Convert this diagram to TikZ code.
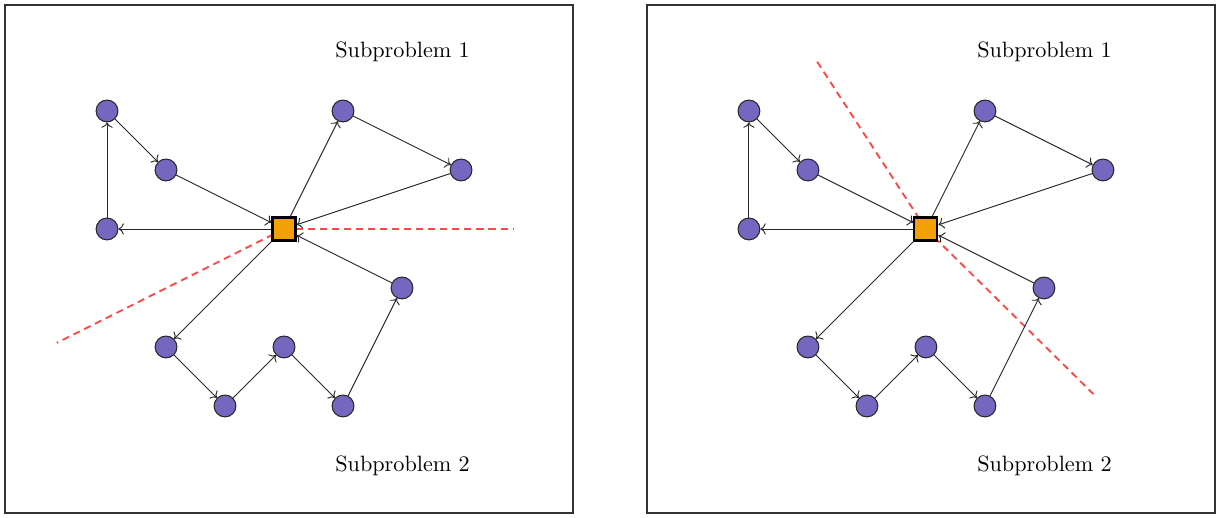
\documentclass[tikz,border=0pt]{standalone}
\usetikzlibrary{arrows.meta}
\definecolor{nodepurple}{RGB}{117,103,192}
\definecolor{hub}{RGB}{241,161,4}
\definecolor{cutred}{RGB}{255,72,72}
\begin{document}
\begin{tikzpicture}[
  vert/.style={circle,draw=black!85,fill=nodepurple,line width=0.5pt,minimum size=0.37cm,inner sep=0pt},
  hubnode/.style={rectangle,draw=black,fill=hub,line width=1pt,minimum size=0.39cm,inner sep=0pt},
  edge/.style={->,draw=black!85,line width=0.45pt},
  cut/.style={draw=cutred,line width=0.9pt,dash pattern=on 3.4pt off 2.4pt},
  panel/.style={draw=black!80,line width=0.6pt},
  lbl/.style={font=\fontsize{10.7}{13}\selectfont}
]
\useasboundingbox (-4.814,-4.898) rectangle (15.864,3.881);
\foreach \ox/\p in {0/L,10.88/R}{
  \begin{scope}[xshift=\ox cm]
    \draw[panel] (-4.729,-4.814) rectangle (4.898,3.797);
    \coordinate (ctr\p) at (0,0);
  \end{scope}
}
% cut lines (behind nodes)
\coordinate (cutLa) at (3.88,0);
\coordinate (cutLb) at (-3.85,-1.93);
\draw[cut] (ctrL) -- (cutLa);
\draw[cut] (ctrL) -- (cutLb);
\begin{scope}[xshift=10.88cm]
  \coordinate (cutRa) at (-1.86,2.86);
  \coordinate (cutRb) at (2.84,-2.8);
\end{scope}
\draw[cut] (ctrR) -- (cutRa);
\draw[cut] (ctrR) -- (cutRb);
\foreach \ox/\p in {0/L,10.88/R}{
  \begin{scope}[xshift=\ox cm]
    \node[hubnode] (h\p) at (0,0) {};
    \node[vert] (a\p) at (-3,2) {};
    \node[vert] (b\p) at (-2,1) {};
    \node[vert] (c\p) at (-3,0) {};
    \node[vert] (d\p) at (1,2) {};
    \node[vert] (e\p) at (3,1) {};
    \node[vert] (f\p) at (2,-1) {};
    \node[vert] (g\p) at (-2,-2) {};
    \node[vert] (i\p) at (-1,-3) {};
    \node[vert] (j\p) at (0,-2) {};
    \node[vert] (k\p) at (1,-3) {};
    \draw[edge] (c\p) -- (a\p);
    \draw[edge] (a\p) -- (b\p);
    \draw[edge] (b\p) -- (h\p);
    \draw[edge] (h\p) -- (c\p);
    \draw[edge] (h\p) -- (d\p);
    \draw[edge] (d\p) -- (e\p);
    \draw[edge] (e\p) -- (h\p);
    \draw[edge] (f\p) -- (h\p);
    \draw[edge] (h\p) -- (g\p);
    \draw[edge] (g\p) -- (i\p);
    \draw[edge] (i\p) -- (j\p);
    \draw[edge] (j\p) -- (k\p);
    \draw[edge] (k\p) -- (f\p);
    \node[lbl] (s1\p) at (2.01,3.0) {Subproblem 1};
    \node[lbl] (s2\p) at (2.01,-4.01) {Subproblem 2};
  \end{scope}
}
\end{tikzpicture}
\end{document}
